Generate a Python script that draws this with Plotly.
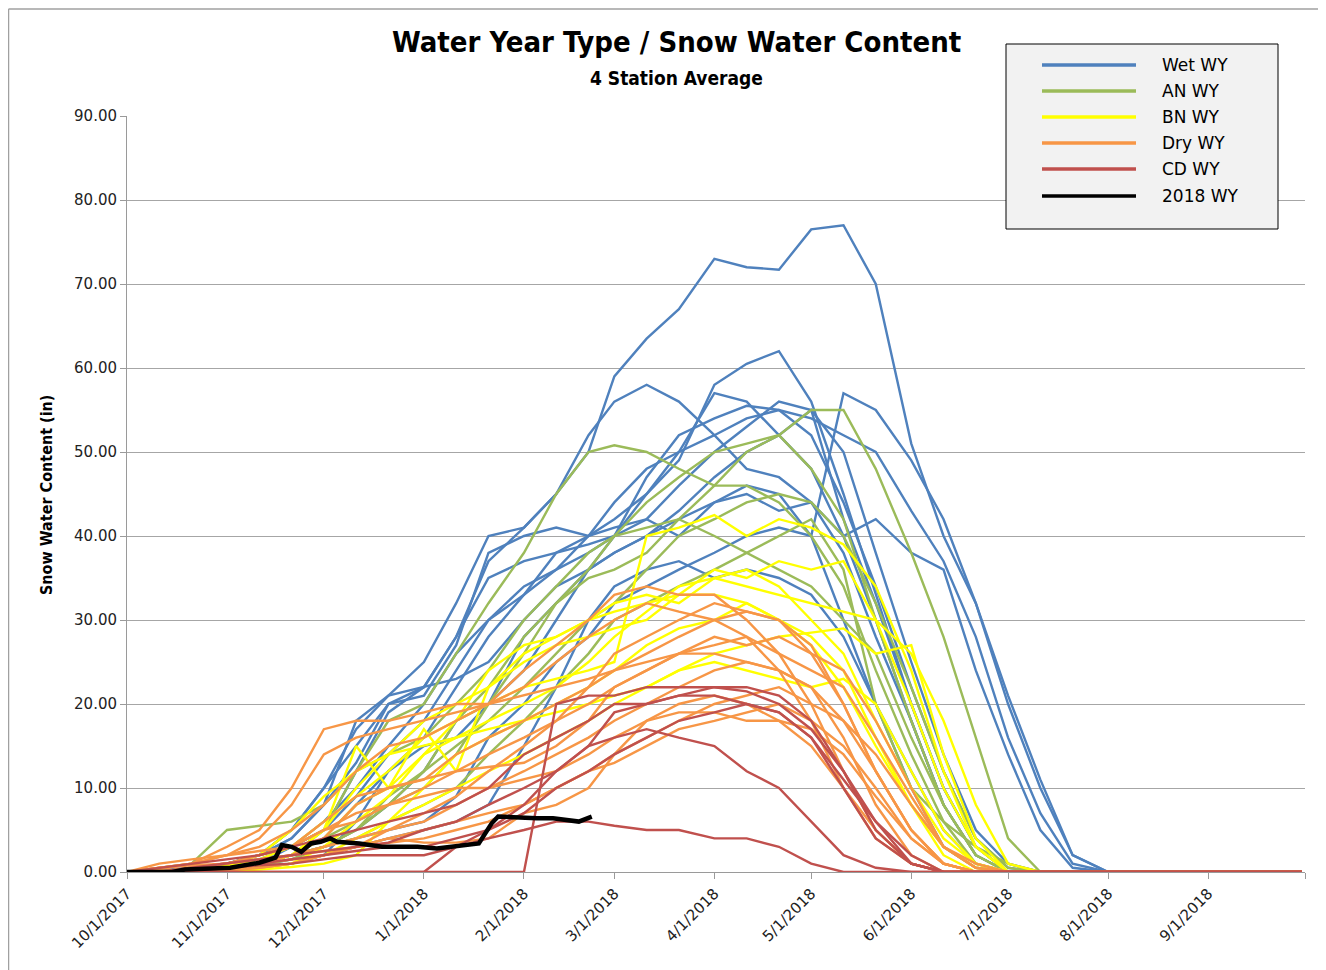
import plotly.graph_objects as go

# ---------------- data ----------------
grid_dates = ["2017-10-01", "2017-10-11", "2017-10-21", "2017-11-01", "2017-11-11", "2017-11-21",
              "2017-12-01", "2017-12-11", "2017-12-21", "2018-01-01", "2018-01-11", "2018-01-21",
              "2018-02-01", "2018-02-11", "2018-02-21", "2018-03-01", "2018-03-11", "2018-03-21",
              "2018-04-01", "2018-04-11", "2018-04-21", "2018-05-01", "2018-05-11", "2018-05-21",
              "2018-06-01", "2018-06-11", "2018-06-21", "2018-07-01", "2018-07-11", "2018-07-21",
              "2018-08-01", "2018-09-30"]

wet_1 = [0, 0.2, 0.5, 1, 1.5, 3, 5, 12, 19, 22, 28, 37, 41, 45, 50, 59, 63.5, 67, 73, 72, 71.7, 76.5, 77, 70, 51, 40, 32, 21, 11, 2, 0, 0]
wet_2 = [0, 0, 0.3, 0.5, 1, 2, 5, 9, 14, 18, 24, 30, 33, 36, 40, 42, 45, 49, 58, 60.5, 62, 56, 45, 33, 20, 10, 3, 0, 0, 0, 0, 0]
wet_3 = [0, 0, 0, 0.3, 0.8, 1.5, 3, 4, 5, 6, 9, 16, 20, 25, 28, 32, 34, 36, 38, 40, 41, 40, 57, 55, 49, 42, 32, 20, 10, 2, 0, 0]
wet_4 = [0, 0, 0.3, 1, 2, 4, 8, 13, 20, 22, 28, 35, 37, 38, 39, 40, 42, 46, 50, 53, 56, 55, 42, 32, 20, 10, 3, 0, 0, 0, 0, 0]
wet_5 = [0, 0, 0, 0.5, 1, 2, 3, 5, 8, 12, 18, 20, 24, 30, 36, 40, 47, 52, 54, 55.5, 55, 52, 44, 34, 22, 12, 4, 0.5, 0, 0, 0, 0]
wet_6 = [0, 0, 0.5, 1, 2, 5, 10, 17, 21, 25, 32, 40, 41, 45, 52, 56, 58, 56, 52, 48, 47, 44, 38, 28, 18, 8, 2, 0, 0, 0, 0, 0]
wet_7 = [0, 0, 0, 0.5, 1, 3, 6, 10, 15, 20, 26, 30, 34, 36, 38, 40, 45, 50, 57, 56, 52, 48, 40, 30, 18, 8, 2, 0, 0, 0, 0, 0]
wet_8 = [0, 0, 0.3, 1, 2, 5, 10, 15, 20, 21, 27, 38, 40, 41, 40, 41, 42, 40, 44, 46, 45, 40, 30, 20, 10, 3, 0.5, 0, 0, 0, 0, 0]
wet_9 = [0, 0, 0, 0, 0.5, 1, 2, 3, 4, 5, 6, 8, 15, 22, 30, 34, 36, 37, 35, 36, 35, 33, 28, 20, 12, 5, 1, 0, 0, 0, 0, 0]
wet_10 = [0, 0, 0.5, 1, 2, 4, 8, 18, 21, 22, 23, 25, 30, 34, 36, 38, 40, 43, 47, 50, 52, 55, 50, 38, 25, 14, 5, 1, 0, 0, 0, 0]
wet_11 = [0, 0, 0, 0.3, 0.6, 1, 2, 6, 12, 16, 22, 28, 33, 38, 40, 44, 48, 50, 52, 54, 55, 54, 52, 50, 43, 37, 28, 16, 7, 1, 0, 0]
wet_12 = [0, 0, 0, 0.5, 1, 2, 4, 8, 12, 15, 16, 20, 28, 32, 36, 38, 40, 42, 44, 45, 43, 44, 40, 42, 38, 36, 24, 14, 5, 0.5, 0, 0]

an_1 = [0, 0, 0, 0.5, 1, 2, 3, 5, 8, 12, 18, 22, 28, 32, 35, 36, 38, 42, 46, 50, 52, 55, 55, 48, 38, 28, 16, 4, 0, 0, 0, 0]
an_2 = [0, 0.5, 1, 5, 5.5, 6, 8, 12, 18, 20, 26, 32, 38, 45, 50, 50.8, 50, 48, 46, 46, 44, 40, 34, 24, 14, 6, 1, 0, 0, 0, 0, 0]
an_3 = [0, 0, 0.3, 0.5, 1, 2, 4, 6, 8, 10, 14, 20, 26, 32, 36, 40, 44, 47, 50, 51, 52, 48, 42, 30, 18, 8, 2, 0, 0, 0, 0, 0]
an_4 = [0, 0, 0, 0.3, 0.8, 1.5, 3, 5, 9, 12, 15, 18, 22, 26, 30, 32, 36, 40, 42, 44, 45, 44, 40, 32, 22, 12, 4, 0.5, 0, 0, 0, 0]
an_5 = [0, 0, 0, 0.5, 1, 2, 3, 4, 6, 8, 10, 14, 18, 22, 26, 30, 32, 34, 36, 38, 40, 42, 36, 20, 10, 6, 3, 1, 0, 0, 0, 0]
an_6 = [0, 0, 0.3, 1, 2, 3, 5, 12, 14, 16, 20, 24, 30, 34, 38, 40, 41, 42, 40, 38, 36, 34, 30, 26, 16, 8, 2, 0, 0, 0, 0, 0]

bn_1 = [0, 0, 0.3, 0.8, 1.5, 3, 6, 9, 12, 16, 18, 20, 22, 23, 24, 25, 40, 41, 42.5, 40, 42, 41, 39, 34, 24, 12, 3, 0, 0, 0, 0, 0]
bn_2 = [0, 0, 0, 0.5, 1, 2, 5, 10, 14, 18, 20, 22, 25, 27, 28, 29, 30, 33, 36, 35, 37, 36, 37, 30, 20, 10, 3, 0, 0, 0, 0, 0]
bn_3 = [0, 0, 0.3, 0.5, 1, 2, 4, 8, 10, 14, 16, 18, 20, 22, 25, 28, 31, 34, 35, 34, 33, 32, 31, 30, 26, 18, 8, 1, 0, 0, 0, 0]
bn_4 = [0, 0, 0, 0.3, 0.6, 1, 2, 4, 6, 8, 10, 12, 14, 16, 18, 20, 22, 24, 26, 27, 28, 28.5, 29, 26, 27, 14, 4, 0, 0, 0, 0, 0]
bn_5 = [0, 0, 0.3, 0.8, 2, 5, 9, 12, 14, 15, 16, 17, 18, 19, 20, 21, 22, 24, 25, 24, 23, 22, 23, 20, 12, 5, 1, 0, 0, 0, 0, 0]
bn_6 = [0, 0, 0, 0.5, 1, 2, 5, 15, 10, 17, 12, 22, 26, 28, 30, 32, 33, 32, 35, 36, 34, 30, 26, 18, 10, 4, 1, 0, 0, 0, 0, 0]
bn_7 = [0, 0, 0, 0.2, 0.5, 1, 3, 6, 9, 14, 18, 24, 27, 28, 30, 31, 32, 33, 33, 32, 30, 27, 22, 15, 8, 3, 0.5, 0, 0, 0, 0, 0]
bn_8 = [0, 0, 0, 0, 0.3, 0.6, 1, 2, 6, 10, 14, 16, 18, 20, 22, 24, 27, 29, 30, 32, 30, 28, 24, 16, 8, 2, 0, 0, 0, 0, 0, 0]

dry_1 = [0, 0.5, 1, 2, 3, 5, 8, 12, 15, 16, 18, 20, 24, 27, 30, 33, 34, 33, 33, 30, 26, 20, 12, 5, 1, 0, 0, 0, 0, 0, 0, 0]
dry_2 = [0, 1, 1.5, 2, 4, 8, 14, 16, 17, 18, 19, 20, 22, 25, 28, 30, 32, 31, 30, 28, 24, 18, 10, 4, 1, 0, 0, 0, 0, 0, 0, 0]
dry_3 = [0, 0.5, 0.8, 1, 2, 3, 5, 6, 8, 10, 12, 14, 16, 18, 22, 26, 28, 30, 32, 31, 30, 26, 20, 12, 5, 1, 0, 0, 0, 0, 0, 0]
dry_4 = [0, 0, 0.5, 1, 1.5, 2, 3, 4, 5, 6, 8, 10, 12, 14, 16, 18, 20, 22, 24, 25, 24, 22, 18, 12, 5, 1, 0, 0, 0, 0, 0, 0]
dry_5 = [0, 0, 0, 0.3, 0.5, 1, 2, 3, 4, 3.5, 3.5, 4, 7, 8, 10, 14, 18, 20, 21, 20, 18, 15, 10, 5, 1, 0, 0, 0, 0, 0, 0, 0]
dry_6 = [0, 0, 0.2, 0.5, 1, 2, 4, 8, 10, 11, 12, 12.5, 13, 15, 18, 22, 24, 26, 28, 27, 28, 26, 24, 18, 10, 3, 0.5, 0, 0, 0, 0, 0]
dry_7 = [0, 0, 0, 0.5, 1, 1.5, 2, 3, 4, 5, 6, 7, 8, 10, 12, 14, 16, 18, 20, 21, 22, 20, 18, 14, 8, 3, 0.5, 0, 0, 0, 0, 0]
dry_8 = [0, 0.3, 1, 2, 2.5, 3, 6, 9, 10, 11, 14, 16, 18, 20, 22, 24, 25, 26, 26, 25, 24, 22, 16, 8, 2, 0, 0, 0, 0, 0, 0, 0]
dry_9 = [0, 0, 0.5, 1, 2, 3, 5, 7, 8, 9, 10, 10, 11, 12, 14, 16, 18, 19, 19, 18, 18, 17, 14, 9, 4, 1, 0, 0, 0, 0, 0, 0]
dry_10 = [0, 0, 0, 0.2, 0.5, 1, 2, 3, 5, 7, 9, 12, 15, 18, 20, 22, 24, 26, 27, 28, 26, 24, 22, 16, 9, 3, 1, 0, 0, 0, 0, 0]
dry_11 = [0, 0.5, 1, 3, 5, 10, 17, 18, 18, 19, 20, 20, 21, 22, 23, 24, 26, 28, 30, 31, 30, 27, 20, 12, 5, 1, 0, 0, 0, 0, 0, 0]
dry_12 = [0, 0, 0.5, 1, 1.5, 2, 2.5, 3, 3.5, 4, 5, 6, 8, 10, 12, 13, 15, 17, 18, 19, 20, 18, 15, 10, 4, 1, 0, 0, 0, 0, 0, 0]

cd_1 = [0, 0, 0, 0, 0, 0, 0, 0, 0, 0, 0, 0, 0, 20, 21, 21, 22, 22, 22, 21.5, 20, 17, 12, 6, 1, 0, 0, 0, 0, 0, 0, 0]
cd_2 = [0, 0, 0.3, 0.5, 0.8, 1, 1.5, 2, 2, 2, 3, 4, 5, 6, 6, 5.5, 5, 5, 4, 4, 3, 1, 0, 0, 0, 0, 0, 0, 0, 0, 0, 0]
cd_3 = [0, 0, 0.5, 1, 1.5, 2, 2.5, 3, 3.5, 5, 6, 8, 10, 12, 15, 19, 20, 21, 22, 22, 21, 18, 12, 5, 1, 0, 0, 0, 0, 0, 0, 0]
cd_4 = [0, 0, 0, 0.5, 1, 1.5, 2, 2.5, 3, 3, 4, 5, 8, 12, 15, 16, 17, 16, 15, 12, 10, 6, 2, 0.5, 0, 0, 0, 0, 0, 0, 0, 0]
cd_5 = [0, 0, 0, 0, 0, 0, 0, 0, 0, 0, 3, 5, 7, 10, 12, 14, 16, 18, 19, 20, 19, 16, 10, 4, 1, 0, 0, 0, 0, 0, 0, 0]
cd_6 = [0, 0.5, 1, 1.5, 2, 3, 4, 5, 6, 7, 8, 10, 14, 16, 18, 20, 20, 21, 21, 20, 19, 16, 11, 6, 2, 0, 0, 0, 0, 0, 0, 0]

wy2018_dates = ["2017-10-01", "2017-10-15", "2017-10-19", "2017-11-02", "2017-11-11", "2017-11-16",
                "2017-11-18", "2017-11-21", "2017-11-24", "2017-11-27", "2017-11-30", "2017-12-03",
                "2017-12-05", "2017-12-12", "2017-12-19", "2017-12-30", "2018-01-05", "2018-01-15",
                "2018-01-18", "2018-01-22", "2018-01-24", "2018-02-05", "2018-02-10", "2018-02-18",
                "2018-02-22"]
wy2018_values = [0, 0, 0.3, 0.5, 1.1, 1.7, 3.2, 3.0, 2.4, 3.4, 3.6, 4.0, 3.6, 3.4, 3.0, 3.0, 2.8, 3.2,
                 3.4, 5.8, 6.6, 6.4, 6.4, 6.0, 6.6]

tick_dates = ["2017-10-01", "2017-11-01", "2017-12-01", "2018-01-01", "2018-02-01", "2018-03-01",
              "2018-04-01", "2018-05-01", "2018-06-01", "2018-07-01", "2018-08-01", "2018-09-01",
              "2018-10-01"]
tick_labels = ["10/1/2017", "11/1/2017", "12/1/2017", "1/1/2018", "2/1/2018", "3/1/2018",
               "4/1/2018", "5/1/2018", "6/1/2018", "7/1/2018", "8/1/2018", "9/1/2018", ""]

legend_names = ["Wet WY", "AN WY", "BN WY", "Dry WY", "CD WY", "2018 WY"]
legend_colors = ["#4F81BD", "#9BBB59", "#FFFF00", "#F79646", "#C0504D", "#000000"]

groups = [
    ([wet_1, wet_2, wet_3, wet_4, wet_5, wet_6, wet_7, wet_8, wet_9, wet_10, wet_11, wet_12], "#4F81BD"),
    ([an_1, an_2, an_3, an_4, an_5, an_6], "#9BBB59"),
    ([bn_1, bn_2, bn_3, bn_4, bn_5, bn_6, bn_7, bn_8], "#FFFF00"),
    ([dry_1, dry_2, dry_3, dry_4, dry_5, dry_6, dry_7, dry_8, dry_9, dry_10, dry_11, dry_12], "#F79646"),
    ([cd_1, cd_2, cd_3, cd_4, cd_5, cd_6], "#C0504D"),
]

# ---------------- figure ----------------
OFF = 8  # page body margin of the browser
W, H = 1326 - OFF, 970 - OFF
ML, MR, MT, MB = 127 - OFF, 21, 116 - OFF, 98
PW, PH = W - ML - MR, H - MT - MB


def px(x):
    return (x - OFF - ML) / PW


def py(y):
    return (OFF + H - MB - y) / PH


fig = go.Figure()
for series_list, color in groups:
    for vals in series_list:
        fig.add_trace(go.Scatter(x=grid_dates, y=vals, mode="lines",
                                 line=dict(color=color, width=2.4), showlegend=False,
                                 hoverinfo="skip"))
fig.add_trace(go.Scatter(x=wy2018_dates, y=wy2018_values, mode="lines",
                         line=dict(color="#000000", width=4.5), showlegend=False))

narrow = "Liberation Sans Narrow, DejaVu Sans Condensed, Arial Narrow, sans-serif"
tickfont = dict(family="DejaVu Sans, Verdana, sans-serif", size=15, color="#222222")

fig.update_xaxes(type="date", range=["2017-10-01", "2018-10-01"], tickvals=tick_dates,
                 ticktext=tick_labels, tickangle=-45, showgrid=False, showline=True,
                 linecolor="#9A9A9A", linewidth=1, ticks="outside", ticklen=6,
                 tickcolor="#9A9A9A", tickfont=tickfont, zeroline=False)
fig.update_yaxes(range=[0, 90], dtick=10, tickformat=".2f", showgrid=True,
                 gridcolor="#A6A6A6", gridwidth=1.2, showline=True, linecolor="#9A9A9A",
                 linewidth=1, ticks="outside", ticklen=6, tickcolor="#9A9A9A",
                 tickfont=tickfont, zeroline=False)

shapes = [
    dict(type="line", xref="paper", yref="paper", x0=px(8.5), x1=px(1326), y0=py(9), y1=py(9),
         line=dict(color="#A0A0A0", width=1.5)),
    dict(type="line", xref="paper", yref="paper", x0=px(8.5), x1=px(8.5), y0=py(9), y1=py(970),
         line=dict(color="#A0A0A0", width=1.5)),
    dict(type="rect", xref="paper", yref="paper", x0=px(1006), x1=px(1278), y0=py(229), y1=py(44),
         fillcolor="#F2F2F2", line=dict(color="#000000", width=1)),
]
annotations = [
    dict(text="<b>Water Year Type / Snow Water Content</b>", xref="paper", yref="paper",
         x=px(676), y=py(42), showarrow=False, xanchor="center", yanchor="middle",
         font=dict(family=narrow, size=29, color="#000000")),
    dict(text="<b>4 Station Average</b>", xref="paper", yref="paper",
         x=px(676), y=py(78), showarrow=False, xanchor="center", yanchor="middle",
         font=dict(family=narrow, size=19, color="#000000")),
    dict(text="<b>Snow Water Content (in)</b>", xref="paper", yref="paper",
         x=px(46), y=py(495), showarrow=False, textangle=-90, xanchor="center", yanchor="middle",
         font=dict(family=narrow, size=16, color="#000000")),
]
row_y = [65, 91, 117, 143, 169, 196]
for name, color, ry in zip(legend_names, legend_colors, row_y):
    shapes.append(dict(type="line", xref="paper", yref="paper", x0=px(1042), x1=px(1136),
                       y0=py(ry), y1=py(ry), line=dict(color=color, width=3.5)))
    annotations.append(dict(text=name, xref="paper", yref="paper", x=px(1160), y=py(ry),
                            showarrow=False, xanchor="left", yanchor="middle",
                            font=dict(family="DejaVu Sans, Verdana, sans-serif", size=17,
                                      color="#000000")))

fig.update_layout(width=W, height=H, margin=dict(l=ML, r=MR, t=MT, b=MB, autoexpand=False),
                  paper_bgcolor="#FFFFFF", plot_bgcolor="#FFFFFF", showlegend=False,
                  shapes=shapes, annotations=annotations)

fig.write_html("out.html")
